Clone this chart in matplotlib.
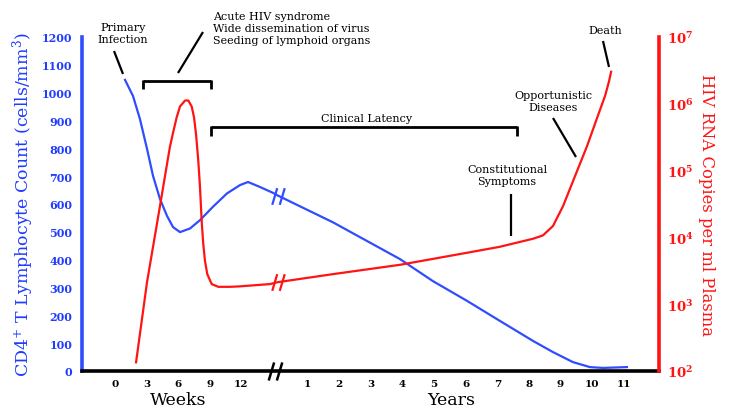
import numpy as np
import matplotlib
matplotlib.use('Agg')
import matplotlib.pyplot as plt
from matplotlib.path import Path

plt.rcParams['font.family'] = ['DejaVu Serif']
plt.rcParams['mathtext.fontset'] = 'dejavuserif'

# ---------------- data ----------------
week_ticks = [0, 3, 6, 9, 12]
year_ticks = [1, 2, 3, 4, 5, 6, 7, 8, 9, 10, 11]
cd4_ticks = [0, 100, 200, 300, 400, 500, 600, 700, 800, 900, 1000, 1100, 1200]
rna_ticks = [1e2, 1e3, 1e4, 1e5, 1e6, 1e7]
rna_tick_labels = [r'$\mathbf{10^{2}}$', r'$\mathbf{10^{3}}$', r'$\mathbf{10^{4}}$',
                   r'$\mathbf{10^{5}}$', r'$\mathbf{10^{6}}$', r'$\mathbf{10^{7}}$']

# CD4 count (cells/mm3): first weeks, then years
cd4_weeks = [0.95, 1.71, 2.37, 3.04, 3.61, 4.27, 4.94, 5.51, 6.17, 7.12, 8.07, 9.30,
             10.63, 11.87, 12.63, 13.77, 15.0, 15.47]
cd4_weeks_vals = [1046, 988, 905, 798, 701, 618, 557, 517, 499, 512, 542, 590,
                  638, 668, 679, 661, 640, 630]
cd4_years = [0.06, 1.80, 3.92, 4.96, 6.04, 7.08, 8.13, 8.76, 9.39, 9.93, 10.34, 11.1]
cd4_years_vals = [630, 534, 402, 323, 252, 180, 108, 68, 32, 14, 11, 14]

# HIV RNA copies per ml plasma: first weeks, then years
rna_weeks = [2.0, 3.04, 4.27, 4.94, 5.22, 5.53, 5.86, 6.17, 6.65, 6.96, 7.28, 7.50,
             7.69, 7.91, 8.07, 8.23, 8.38, 8.54, 8.76, 9.18, 9.81, 10.92, 11.87, 14.7,
             15.47]
rna_weeks_vals = [135, 2140, 29500, 126000, 229000, 380000, 631000, 912000, 1120000,
                  1120000, 912000, 631000, 355000, 138000, 56200, 17400, 7940, 4470,
                  2820, 2000, 1820, 1820, 1850, 2000, 2140]
rna_years = [0.06, 1.8, 3.92, 6.04, 7.08, 8.13, 8.44, 8.76, 9.08, 9.46, 9.84, 10.18,
             10.41, 10.53, 10.6]
rna_years_vals = [2140, 2820, 3890, 5890, 7240, 9550, 10700, 14800, 29500, 83200,
                  234000, 661000, 1320000, 2140000, 3020000]

BLUE = '#2f4dff'
BLUE_TXT = '#1f3cff'
RED = '#ff1414'


def wpos(w):
    return np.asarray(w, dtype=float) / 3.0


def ypos(y):
    return 5.1 + np.asarray(y, dtype=float)


fig = plt.figure(figsize=(7.38, 4.14), dpi=100)
ax = fig.add_axes([82 / 738, 42 / 414, 577 / 738, 334 / 414])
ax2 = ax.twinx()

# curves
cd4_x = np.concatenate([wpos(cd4_weeks), ypos(cd4_years)])
cd4_y = np.concatenate([cd4_weeks_vals, cd4_years_vals])
ax.plot(cd4_x, cd4_y, color=BLUE, lw=1.6, solid_joinstyle='round', zorder=3)

rna_x = np.concatenate([wpos(rna_weeks), ypos(rna_years)])
rna_y = np.concatenate([rna_weeks_vals, rna_years_vals])
ax2.plot(rna_x, rna_y, color=RED, lw=1.6, solid_joinstyle='round', zorder=3)

# break marks "//"
brk = Path([(-0.75, -1), (-0.15, 1), (0.15, -1), (0.75, 1)],
           [Path.MOVETO, Path.LINETO, Path.MOVETO, Path.LINETO])
ax.plot(ypos(cd4_years[:1]), cd4_years_vals[:1], marker=brk, ms=12, mew=1.6,
        color=BLUE, ls='none', zorder=4)
ax2.plot(ypos(rna_years[:1]), rna_years_vals[:1], marker=brk, ms=12, mew=1.6,
         color=RED, ls='none', zorder=4)
axis_break = (wpos(week_ticks[-1]) + ypos(year_ticks[0])) / 2
ax.plot([axis_break], [0], marker=brk, ms=13, mew=1.8, color='black', ls='none',
        clip_on=False, zorder=5)

# axes limits
ax.set_xlim((82 - 115) / 31.6, (659 - 115) / 31.6)
ax.set_ylim(0, 1200)
ax2.set_yscale('log')
ax2.set_ylim(1e2, 1e7)

# ticks
xt = list(wpos(week_ticks)) + list(ypos(year_ticks))
xl = [str(w) for w in week_ticks] + [str(y) for y in year_ticks]
ax.set_xticks(xt)
ax.set_xticklabels(xl, fontsize=7.5, fontweight='bold')
ax.set_yticks(cd4_ticks)
ax.set_yticklabels([str(v) for v in cd4_ticks], fontsize=8, fontweight='bold',
                   color=BLUE_TXT)
ax.tick_params(axis='x', length=0, pad=6)
ax.tick_params(axis='y', length=0, pad=7)
ax2.set_yticks(rna_ticks)
ax2.set_yticklabels(rna_tick_labels, fontsize=9.5, color=RED)
ax2.yaxis.set_minor_locator(matplotlib.ticker.NullLocator())
ax2.tick_params(axis='y', length=0, pad=6)

# spines
for s in ['top']:
    ax.spines[s].set_visible(False)
    ax2.spines[s].set_visible(False)
ax.spines['right'].set_visible(False)
ax2.spines['left'].set_visible(False)
ax2.spines['bottom'].set_visible(False)
ax.spines['left'].set_color(BLUE)
ax.spines['left'].set_linewidth(2.6)
ax.spines['bottom'].set_color('black')
ax.spines['bottom'].set_linewidth(2.6)
ax2.spines['right'].set_color(RED)
ax2.spines['right'].set_linewidth(2.6)

# axis labels
ax.set_ylabel(r'CD4$^{+}$ T Lymphocyte Count (cells/mm$^{3}$)', color=BLUE_TXT,
              fontsize=12.5, labelpad=4)
ax2.set_ylabel('HIV RNA Copies per ml Plasma', color=RED, fontsize=11.8,
               rotation=270, labelpad=15)


def P(px, py):
    return ((px - 82) / 577.0, (372 - py) / 334.0)


def seg(p0, p1, lw=1.6):
    a, b = P(*p0), P(*p1)
    ax.plot([a[0], b[0]], [a[1], b[1]], color='black', lw=lw, transform=ax.transAxes,
            clip_on=False, zorder=6, solid_capstyle='butt')


def txt(px, py, s, ha='center', size=8.0, va='center'):
    x, y = P(px, py)
    ax.text(x, y, s, transform=ax.transAxes, ha=ha, va=va, fontsize=size,
            linespacing=1.3, clip_on=False, zorder=6)


# x group labels
txt(178, 401, 'Weeks', size=12.5)
txt(451, 401, 'Years', size=12.5)

# annotations
txt(123, 34, 'Primary\nInfection')
seg((114, 52), (123, 75))
txt(213, 29, 'Acute HIV syndrome\nWide dissemination of virus\nSeeding of lymphoid organs',
    ha='left')
seg((203, 33), (178, 74))
# acute bracket
seg((143, 82), (211, 82), lw=2)
seg((143, 81), (143, 90), lw=2)
seg((211, 81), (211, 90), lw=2)
# clinical latency bracket
txt(367, 119, 'Clinical Latency')
seg((211, 128), (517, 128), lw=2)
seg((211, 127), (211, 137), lw=2)
seg((517, 127), (517, 137), lw=2)

txt(507, 176, 'Constitutional\nSymptoms')
seg((511, 195), (511, 237))
txt(553, 102, 'Opportunistic\nDiseases')
seg((553, 119), (576, 158))
txt(605, 31, 'Death')
seg((603, 42), (609, 68))

fig.savefig('out.png', dpi=100)
